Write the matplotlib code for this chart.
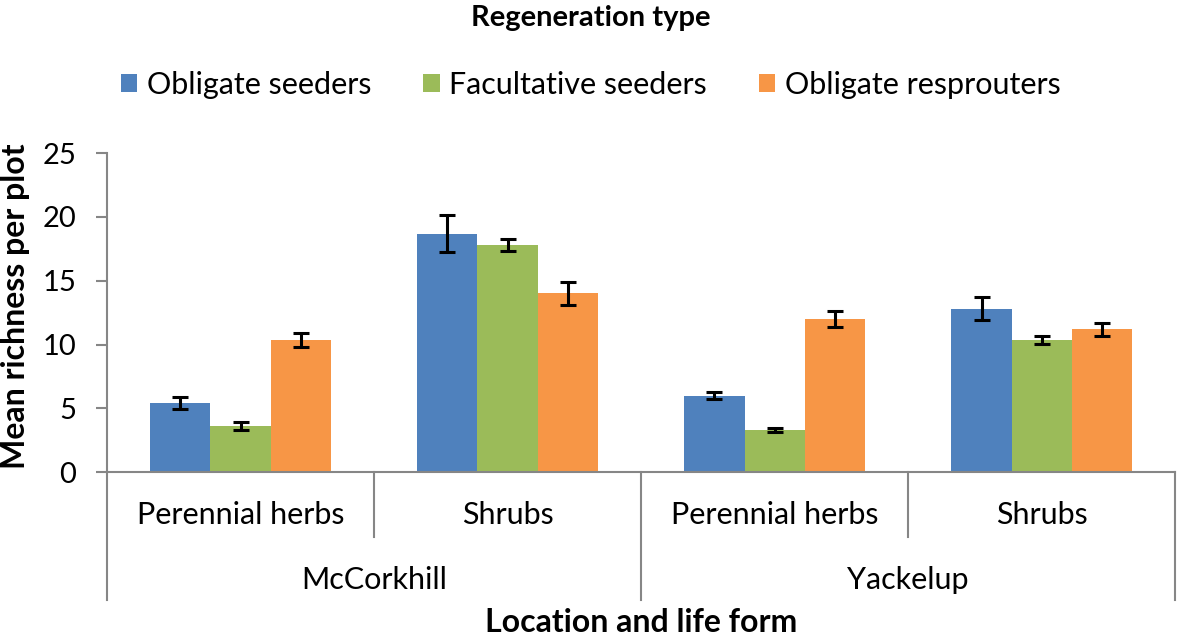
import matplotlib.pyplot as plt
import matplotlib.transforms as mtransforms
import numpy as np

plt.rcParams['font.family'] = ['Lato', 'DejaVu Sans']

life_forms = ['Perennial herbs', 'Shrubs', 'Perennial herbs', 'Shrubs']
locations = ['McCorkhill', 'Yackelup']
series = ['Obligate seeders', 'Facultative seeders', 'Obligate resprouters']

obligate_seeders = [5.4, 18.7, 6.0, 12.8]
obligate_seeders_err = [0.45, 1.45, 0.3, 0.9]
facultative_seeders = [3.6, 17.8, 3.3, 10.35]
facultative_seeders_err = [0.3, 0.5, 0.15, 0.3]
obligate_resprouters = [10.35, 14.0, 12.0, 11.2]
obligate_resprouters_err = [0.55, 0.9, 0.6, 0.5]

colors = ['#4F81BD', '#9BBB59', '#F79646']
grey = '#868686'

fig = plt.figure(figsize=(11.81, 6.38), dpi=100)
ax = fig.add_axes([0.0906, 0.260, 0.9044, 0.500])

x = np.arange(len(life_forms))
w = 0.225
vals = [obligate_seeders, facultative_seeders, obligate_resprouters]
errs = [obligate_seeders_err, facultative_seeders_err, obligate_resprouters_err]
for i in range(3):
    ax.bar(x + (i - 1) * w, vals[i], w, color=colors[i], label=series[i],
           yerr=errs[i], error_kw=dict(ecolor='black', elinewidth=2.2, capsize=6, capthick=2.2))

ax.set_xlim(-0.5, 3.5)
ax.set_ylim(0, 25)
ax.set_yticks([0, 5, 10, 15, 20, 25])
ax.tick_params(axis='y', labelsize=21, color=grey, length=8, width=1.5, pad=14)
ax.set_xticks([])
for s in ['top', 'right']:
    ax.spines[s].set_visible(False)
for s in ['left', 'bottom']:
    ax.spines[s].set_color(grey)
    ax.spines[s].set_linewidth(1.5)

trans = mtransforms.blended_transform_factory(ax.transData, ax.transAxes)
for xs in [0.5, 2.5]:
    ax.plot([xs, xs], [0, -0.204], transform=trans, color=grey, lw=1.5, clip_on=False)
for xs in [-0.5, 1.5, 3.5]:
    ax.plot([xs, xs], [0, -0.401], transform=trans, color=grey, lw=1.5, clip_on=False)
for i, lab in enumerate(life_forms):
    ax.text(i, -0.135, lab, transform=trans, ha='center', va='center', fontsize=22)
for j, lab in enumerate(locations):
    ax.text(0.5 + 2 * j, -0.339, lab, transform=trans, ha='center', va='center', fontsize=22)

ax.text(0.5, -0.472, 'Location and life form', transform=ax.transAxes, ha='center',
        va='center', fontsize=23, fontweight='bold')
ax.set_ylabel('Mean richness per plot', fontsize=23, fontweight='bold')
ax.yaxis.set_label_coords(-0.072, 0.52)

fig.text(0.5, 0.972, 'Regeneration type', ha='center', va='center', fontsize=21, fontweight='bold')
fig.legend(loc='center', bbox_to_anchor=(0.5, 0.867), ncol=3, frameon=False, fontsize=22,
           handlelength=0.55, handleheight=0.55, handletextpad=0.3, columnspacing=1.7)

fig.savefig('out.png', dpi=100)
